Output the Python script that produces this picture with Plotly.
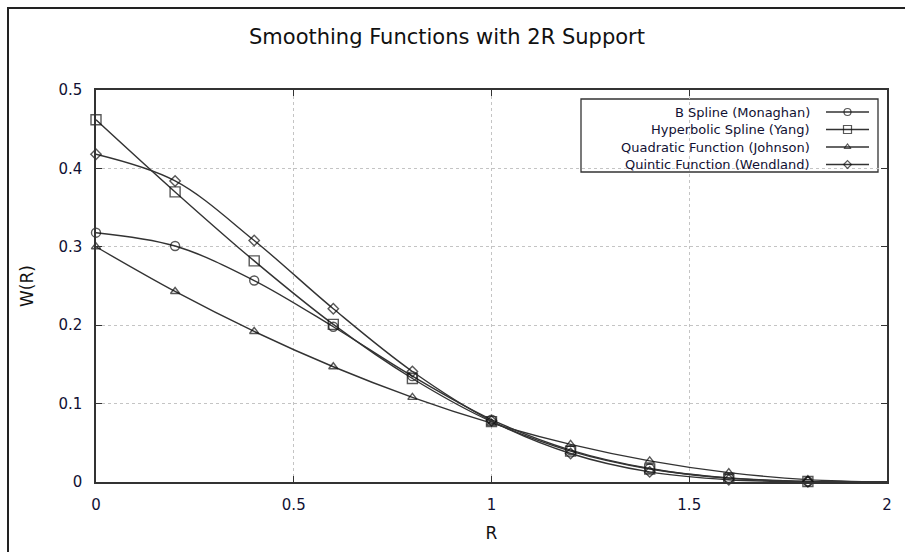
import plotly.graph_objects as go

# ---- data ----
r_values = [0.0, 0.2, 0.4, 0.6, 0.8, 1.0, 1.2, 1.4, 1.6, 1.8, 2.0]
b_spline = [0.318, 0.301, 0.257, 0.198, 0.135, 0.0796, 0.0407, 0.0172, 0.0051, 0.0006, 0.0]
hyperbolic = [0.462, 0.370, 0.282, 0.201, 0.132, 0.077, 0.0394, 0.0166, 0.0049, 0.0006, 0.0]
quadratic = [0.300, 0.243, 0.192, 0.147, 0.108, 0.075, 0.048, 0.027, 0.012, 0.003, 0.0]
quintic = [0.418, 0.384, 0.308, 0.221, 0.141, 0.078, 0.0364, 0.0129, 0.0028, 0.0002, 0.0]
series_names = ["B Spline (Monaghan)", "Hyperbolic Spline (Yang)",
                "Quadratic Function (Johnson)", "Quintic Function (Wendland)"]
series_values = [b_spline, hyperbolic, quadratic, quintic]
x_ticks = [0, 0.5, 1, 1.5, 2]
x_tick_labels = ["0", "0.5", "1", "1.5", "2"]
y_ticks = [0, 0.1, 0.2, 0.3, 0.4, 0.5]
y_tick_labels = ["0", "0.1", "0.2", "0.3", "0.4", "0.5"]

# ---- style ----
symbols = ["circle-open", "square-open", "triangle-up-open", "diamond-open"]
marker_sizes = [9, 10, 8, 8]
line_color = "#333333"
FONT = "DejaVu Sans"
W, H = 905, 552
L, R, T, B = 96, 18, 90, 70
pw, ph = W - L - R, H - T - B

fig = go.Figure()
for name, vals, sym, ms in zip(series_names, series_values, symbols, marker_sizes):
    sizes = [ms] * (len(vals) - 1) + [0]
    fig.add_trace(go.Scatter(
        x=r_values, y=vals, name=name, mode="lines+markers",
        line=dict(color=line_color, width=1.4, shape="spline", smoothing=1.0),
        marker=dict(symbol=sym, size=sizes, color="#111111", line=dict(width=1.4)),
        showlegend=False, cliponaxis=False,
    ))

# custom gnuplot-style legend (text right, sample on the right)
leg_left, leg_top, leg_right, leg_bottom = 581, 99, 878, 172
row_y = [112, 129.5, 147, 164.5]
text_right = 812
samp_x0, samp_x1 = 826, 869

def px(x):
    return (x - L) / pw

def py(y):
    return 1 - (y - T) / ph

shapes = [
    # legend box
    dict(type="rect", xref="paper", yref="paper", x0=px(leg_left), x1=px(leg_right),
         y0=py(leg_bottom), y1=py(leg_top), line=dict(color="#333333", width=1.3),
         fillcolor="white", layer="between"),
    # outer frame of the image
    dict(type="rect", xref="paper", yref="paper", x0=px(8), x1=px(W + 10),
         y0=py(H + 10), y1=py(8), line=dict(color="#222222", width=2),
         fillcolor="rgba(0,0,0,0)", layer="above"),
]
annotations = []
for name, yy in zip(series_names, row_y):
    annotations.append(dict(text=name, xref="paper", yref="paper", x=px(text_right),
                            y=py(yy), xanchor="right", yanchor="middle", showarrow=False,
                            font=dict(family=FONT, size=13, color="#111133")))

# legend samples on a pixel-ranged overlay axis
for sym, ms, yy in zip(symbols, marker_sizes, row_y):
    fig.add_trace(go.Scatter(
        x=[samp_x0, (samp_x0 + samp_x1) / 2, samp_x1], y=[yy, yy, yy],
        xaxis="x2", yaxis="y2", mode="lines+markers", showlegend=False,
        line=dict(color=line_color, width=1.4),
        marker=dict(symbol=sym, size=[0, ms - 2, 0], color="#111111", line=dict(width=1.2)),
        hoverinfo="skip",
    ))

axis_common = dict(showline=True, linecolor="#333333", linewidth=1.5, mirror="ticks",
                   ticks="inside", ticklen=6, tickwidth=1.3, tickcolor="#333333",
                   showgrid=True, gridcolor="#c4c4c4", griddash="dot", gridwidth=1,
                   zeroline=False, tickfont=dict(family=FONT, size=15, color="#111133"))

fig.update_layout(
    width=W, height=H, margin=dict(l=L, r=R, t=T, b=B),
    paper_bgcolor="white", plot_bgcolor="white",
    title=dict(text="Smoothing Functions with 2R Support", x=447 / W, xref="container",
               xanchor="center", y=1 - 37 / H, yanchor="middle",
               font=dict(family=FONT, size=21, color="#111111")),
    xaxis=dict(range=[0, 2], tickvals=x_ticks, ticktext=x_tick_labels,
               ticklabelstandoff=8,
               title=dict(text="R", font=dict(family=FONT, size=17, color="#111111"), standoff=14),
               **axis_common),
    yaxis=dict(range=[0, 0.5], tickvals=y_ticks, ticktext=y_tick_labels,
               ticklabelstandoff=9,
               title=dict(text="W(R)", font=dict(family=FONT, size=17, color="#111111"), standoff=20),
               **axis_common),
    xaxis2=dict(range=[L, W - R], overlaying="x", visible=False, fixedrange=True),
    yaxis2=dict(range=[H - B, T], overlaying="y", visible=False, fixedrange=True),
    shapes=shapes, annotations=annotations,
)

fig.write_html("out.html")
